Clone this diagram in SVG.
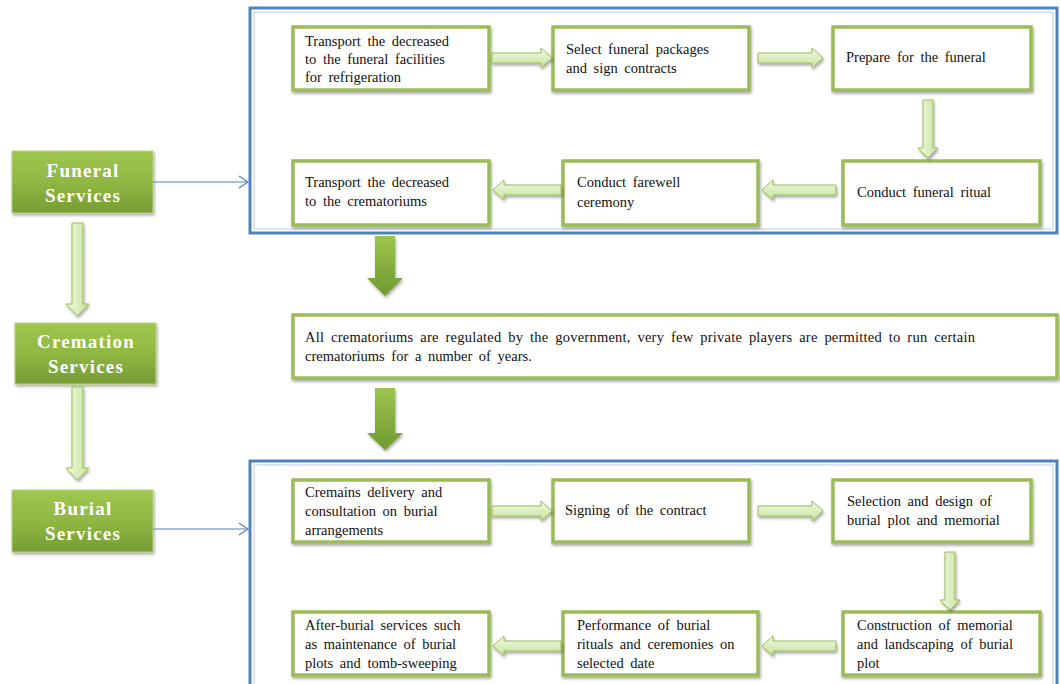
<svg xmlns="http://www.w3.org/2000/svg" width="1060" height="684" viewBox="0 0 1060 684">
<defs>
<linearGradient id="gLabel" x1="0" y1="0" x2="0" y2="1">
<stop offset="0" stop-color="#9fc64d"/>
<stop offset="0.5" stop-color="#8fb743"/>
<stop offset="1" stop-color="#779c35"/>
</linearGradient>
<linearGradient id="gLightH" x1="0" y1="0" x2="0" y2="1">
<stop offset="0" stop-color="#f2f9e6"/>
<stop offset="1" stop-color="#c6e39a"/>
</linearGradient>
<linearGradient id="gLightV" x1="0" y1="0" x2="1" y2="0">
<stop offset="0" stop-color="#f2f9e6"/>
<stop offset="1" stop-color="#c6e39a"/>
</linearGradient>
<linearGradient id="gDark" x1="0" y1="0" x2="0" y2="1">
<stop offset="0" stop-color="#9cc44e"/>
<stop offset="1" stop-color="#6e9a30"/>
</linearGradient>
<filter id="sh" x="-20%" y="-20%" width="150%" height="150%">
<feGaussianBlur in="SourceAlpha" stdDeviation="1.5"/>
<feOffset dx="1" dy="2" result="b"/>
<feComponentTransfer><feFuncA type="linear" slope="0.35"/></feComponentTransfer>
<feMerge><feMergeNode/><feMergeNode in="SourceGraphic"/></feMerge>
</filter>
<marker id="open" markerWidth="12" markerHeight="14" refX="10" refY="7" orient="auto" markerUnits="userSpaceOnUse">
<path d="M1,1 L10,7 L1,13" fill="none" stroke="#4f81bd" stroke-width="1.2"/>
</marker>
</defs>
<style>
.frame{fill:#ffffff;stroke:#4f81bd;stroke-width:3}
.inner{fill:none;stroke:#b8cce4;stroke-width:1}
.box{fill:#ffffff;stroke:#9bbb59;stroke-width:3.5;filter:url(#sh)}
.lab{fill:url(#gLabel);stroke:#b5d17f;stroke-width:1;filter:url(#sh)}
.t{font-family:"Liberation Serif","Times New Roman",serif;font-size:14.5px;word-spacing:3px;fill:#111111}
.lt{font-family:"Liberation Serif","Times New Roman",serif;font-size:19px;font-weight:bold;fill:#ffffff;letter-spacing:1.2px;text-anchor:middle}
.la{fill:url(#gLightH);stroke:#9bbb59;stroke-width:1;filter:url(#sh)}
.lv{fill:url(#gLightV);stroke:#9bbb59;stroke-width:1;filter:url(#sh)}
.da{fill:url(#gDark);stroke:none;filter:url(#sh)}
.conn{fill:none;stroke:#4f81bd;stroke-width:1.2}
</style>
<rect width="1060" height="684" fill="#ffffff"/>

<!-- frames -->
<g id="frame-funeral">
<rect class="frame" x="250" y="8" width="807" height="225"/>
<rect class="inner" x="254" y="12" width="799" height="217"/>
</g>
<g id="frame-burial">
<rect class="frame" x="250" y="461" width="807" height="230"/>
<rect class="inner" x="254" y="465" width="799" height="222"/>
</g>

<!-- left labels -->
<g id="funeral-services">
<rect class="lab" x="12" y="151" width="141" height="62"/>
<text class="lt" x="83" y="177">Funeral</text>
<text class="lt" x="83" y="202">Services</text>
</g>
<g id="cremation-services">
<rect class="lab" x="15" y="323" width="141" height="61"/>
<text class="lt" x="86" y="348">Cremation</text>
<text class="lt" x="86" y="373">Services</text>
</g>
<g id="burial-services">
<rect class="lab" x="12" y="490" width="141" height="62"/>
<text class="lt" x="83" y="515">Burial</text>
<text class="lt" x="83" y="540">Services</text>
</g>

<!-- funeral row 1 -->
<g id="f1">
<rect class="box" x="293" y="27" width="196" height="63"/>
<text class="t" x="305" y="46">Transport the decreased</text>
<text class="t" x="305" y="64">to the funeral facilities</text>
<text class="t" x="305" y="82">for refrigeration</text>
</g>
<g id="f2">
<rect class="box" x="553" y="27" width="196" height="63"/>
<text class="t" x="566" y="54">Select funeral packages</text>
<text class="t" x="566" y="73">and sign contracts</text>
</g>
<g id="f3">
<rect class="box" x="833" y="27" width="198" height="63"/>
<text class="t" x="846" y="62">Prepare for the funeral</text>
</g>
<!-- funeral row 2 -->
<g id="f4">
<rect class="box" x="843" y="161" width="197" height="64"/>
<text class="t" x="857" y="197">Conduct funeral ritual</text>
</g>
<g id="f5">
<rect class="box" x="563" y="161" width="195" height="64"/>
<text class="t" x="577" y="187">Conduct farewell</text>
<text class="t" x="577" y="207">ceremony</text>
</g>
<g id="f6">
<rect class="box" x="293" y="161" width="196" height="64"/>
<text class="t" x="305" y="187">Transport the decreased</text>
<text class="t" x="305" y="206">to the crematoriums</text>
</g>

<!-- middle -->
<g id="crem-note">
<rect class="box" x="293" y="315" width="764" height="63"/>
<text class="t" x="305" y="342" textLength="670" lengthAdjust="spacing">All crematoriums are regulated by the government, very few private players are permitted to run certain</text>
<text class="t" x="305" y="361">crematoriums for a number of years.</text>
</g>

<!-- burial row 1 -->
<g id="b1">
<rect class="box" x="293" y="480" width="196" height="62"/>
<text class="t" x="305" y="497">Cremains delivery and</text>
<text class="t" x="305" y="516">consultation on burial</text>
<text class="t" x="305" y="535">arrangements</text>
</g>
<g id="b2">
<rect class="box" x="553" y="480" width="196" height="62"/>
<text class="t" x="565" y="515">Signing of the contract</text>
</g>
<g id="b3">
<rect class="box" x="833" y="480" width="198" height="62"/>
<text class="t" x="847" y="506">Selection and design of</text>
<text class="t" x="847" y="525">burial plot and memorial</text>
</g>
<!-- burial row 2 -->
<g id="b4">
<rect class="box" x="843" y="612" width="197" height="63"/>
<text class="t" x="857" y="630">Construction of memorial</text>
<text class="t" x="857" y="649">and landscaping of burial</text>
<text class="t" x="857" y="668">plot</text>
</g>
<g id="b5">
<rect class="box" x="563" y="612" width="195" height="63"/>
<text class="t" x="577" y="630">Performance of burial</text>
<text class="t" x="577" y="649">rituals and ceremonies on</text>
<text class="t" x="577" y="668">selected date</text>
</g>
<g id="b6">
<rect class="box" x="293" y="612" width="196" height="63"/>
<text class="t" x="305" y="630">After-burial services such</text>
<text class="t" x="305" y="649">as maintenance of burial</text>
<text class="t" x="305" y="668">plots and tomb-sweeping</text>
</g>

<!-- connectors -->
<g id="connectors">
<line class="conn" x1="153" y1="182" x2="248" y2="182" marker-end="url(#open)"/>
<line class="conn" x1="153" y1="529" x2="248" y2="529" marker-end="url(#open)"/>

<path class="lv" d="M72,223 L83,223 L83,304 L89,304 L77.5,316 L66,304 L72,304 Z"/>
<path class="lv" d="M72,387 L83,387 L83,468 L89,468 L77.5,480 L66,468 L72,468 Z"/>

<path class="da" d="M375,236 L395,236 L395,278 L403,278 L385,296 L367,278 L375,278 Z"/>
<path class="da" d="M375,388 L395,388 L395,433 L403,433 L385,450 L367,433 L375,433 Z"/>

<path class="la" d="M492,53 L541,53 L541,48 L552,58 L541,68 L541,63 L492,63 Z"/>
<path class="la" d="M758,53 L812,53 L812,48 L823,58 L812,68 L812,63 L758,63 Z"/>
<path class="lv" d="M923,100 L933,100 L933,148 L938,148 L928,158 L918,148 L923,148 Z"/>
<path class="la" d="M836,185 L773,185 L773,180 L762,190 L773,200 L773,195 L836,195 Z"/>
<path class="la" d="M561,185 L504,185 L504,180 L493,190 L504,200 L504,195 L561,195 Z"/>

<path class="la" d="M492,506 L541,506 L541,501 L552,511 L541,521 L541,516 L492,516 Z"/>
<path class="la" d="M758,506 L812,506 L812,501 L823,511 L812,521 L812,516 L758,516 Z"/>
<path class="lv" d="M945,552 L955,552 L955,600 L960,600 L950,610 L940,600 L945,600 Z"/>
<path class="la" d="M836,641 L773,641 L773,636 L762,646 L773,656 L773,651 L836,651 Z"/>
<path class="la" d="M561,641 L504,641 L504,636 L493,646 L504,656 L504,651 L561,651 Z"/>
</g>
</svg>
